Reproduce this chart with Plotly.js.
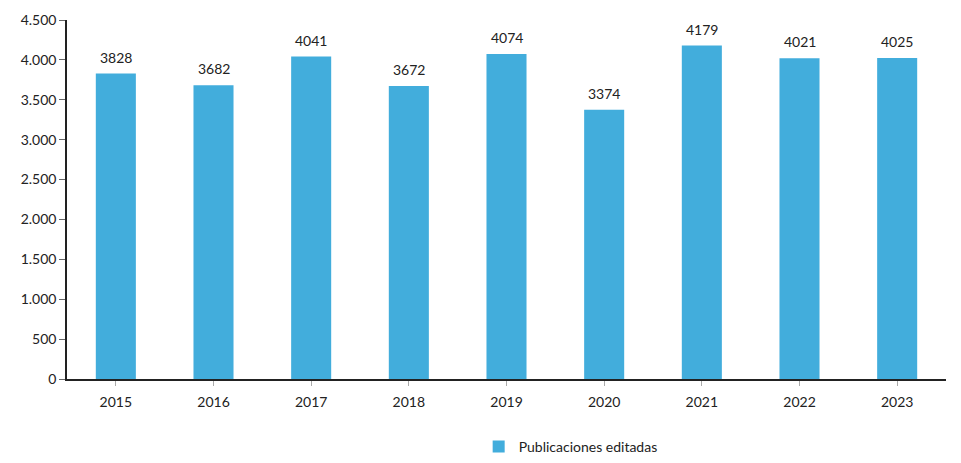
<!DOCTYPE html>
<html><head><meta charset="utf-8">
<script src="https://cdn.plot.ly/plotly-3.0.1.min.js"></script>
<style>body{margin:0;background:#fff}#c{width:961px;height:463px}</style>
</head><body><div id="c"></div>
<script>
const years = ['2015','2016','2017','2018','2019','2020','2021','2022','2023'];
const publicaciones = [3828,3682,4041,3672,4074,3374,4179,4021,4025];
const yTicks = [0,500,1000,1500,2000,2500,3000,3500,4000,4500];
const yTickText = ['0','500','1.000','1.500','2.000','2.500','3.000','3.500','4.000','4.500'];
const font = 'Lato, "Open Sans", sans-serif';
const annotations = years.map((yr,i)=>({x:yr, y:publicaciones[i], text:String(publicaciones[i]), showarrow:false, yanchor:'bottom', yshift:6, font:{family:font,size:14,color:'#222'}}));
Plotly.newPlot('c', [{
  type:'bar', x: years, y: publicaciones, name:'Publicaciones editadas',
  marker:{color:'#42ADDC'}
}], {
  width:961, height:463, margin:{l:67,r:15,t:20,b:84},
  bargap:0.59, showlegend:true, annotations,
  legend:{orientation:'h', x:0.573, xanchor:'center', yref:'container', y:-0.015, yanchor:'bottom', itemwidth:30, font:{family:font,size:14,color:'#222'}},
  font:{family:font,size:14,color:'#222'},
  xaxis:{showline:true, linecolor:'#222', linewidth:1.5, ticks:'outside', tickson:'boundaries', ticklen:5, tickcolor:'#aaa', ticklabelstandoff:4, tickfont:{family:font,size:14,color:'#222'}},
  yaxis:{range:[0,4500], tickvals:yTicks, ticktext:yTickText, showgrid:false, zeroline:false, showline:true, linecolor:'#222', linewidth:1.5, ticks:'outside', ticklen:6, tickcolor:'#666', tickfont:{family:font,size:14,color:'#222'}},
  plot_bgcolor:'#fff', paper_bgcolor:'#fff'
}, {displayModeBar:false});
</script></body></html>
